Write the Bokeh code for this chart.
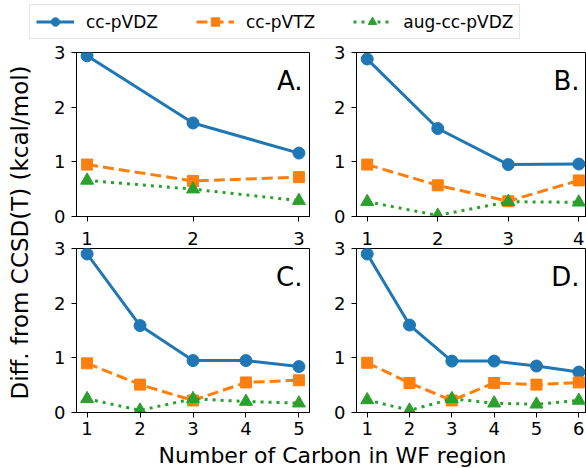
import math
from bokeh.plotting import figure
from bokeh.models import Range1d, FixedTicker, LinearAxis, Legend, LegendItem, Label
from bokeh.layouts import row, column
from bokeh.embed import file_html
from bokeh.resources import INLINE

# ---------------- data ----------------
series_names = ["cc-pVDZ", "cc-pVTZ", "aug-cc-pVDZ"]

A_x = [1, 2, 3]
A_vdz = [2.94, 1.71, 1.16]
A_vtz = [0.95, 0.65, 0.72]
A_aug = [0.66, 0.50, 0.29]

B_x = [1, 2, 3, 4]
B_vdz = [2.88, 1.61, 0.95, 0.96]
B_vtz = [0.95, 0.57, 0.28, 0.66]
B_aug = [0.27, 0.02, 0.27, 0.26]

C_x = [1, 2, 3, 4, 5]
C_vdz = [2.90, 1.59, 0.95, 0.95, 0.84]
C_vtz = [0.90, 0.51, 0.22, 0.55, 0.59]
C_aug = [0.25, 0.04, 0.25, 0.20, 0.17]

D_x = [1, 2, 3, 4, 5, 6]
D_vdz = [2.90, 1.60, 0.94, 0.94, 0.85, 0.74]
D_vtz = [0.91, 0.54, 0.22, 0.54, 0.51, 0.55]
D_aug = [0.23, 0.04, 0.25, 0.17, 0.15, 0.22]

y_ticks = [0, 1, 2, 3]
panel_labels = ["A.", "B.", "C.", "D."]
y_label = "Diff. from CCSD(T) (kcal/mol)"
x_label = "Number of Carbon in WF region"

# ---------------- styles ----------------
FONT = "DejaVu Sans"
styles = [
    dict(color="#1f77b4", dash="solid", marker="circle", size=12),
    dict(color="#ff7f0e", dash="11 5", marker="square", size=11),
    dict(color="#2ca02c", dash="3 5", marker="triangle", size=13),
]
LW = 3


def style_axis(ax):
    ax.axis_line_color = "black"
    ax.axis_line_width = 1
    ax.major_tick_line_color = "black"
    ax.major_tick_line_width = 1
    ax.major_tick_out = 5
    ax.major_tick_in = 0
    ax.minor_tick_out = 0
    ax.minor_tick_in = 0
    ax.major_label_text_font = FONT
    ax.major_label_text_color = "black"
    ax.major_label_text_font_size = "18px"
    ax.major_label_standoff = 6


def panel(x, ys, xr, name, width, height, mbl, mbr, mbt, mbb, show_xlabels, above=None):
    p = figure(width=width, height=height, x_range=Range1d(*xr), y_range=Range1d(0, 3),
               output_backend="svg", toolbar_location=None,
               min_border_left=mbl, min_border_right=mbr,
               min_border_top=mbt, min_border_bottom=mbb)
    p.grid.visible = False
    p.outline_line_color = "black"
    p.outline_line_width = 1
    p.outline_line_alpha = 1
    p.background_fill_color = "white"
    p.border_fill_color = "white"
    p.yaxis.ticker = FixedTicker(ticks=y_ticks)
    for ax in p.yaxis:
        style_axis(ax)
    for ax in p.xaxis:
        style_axis(ax)
    if show_xlabels:
        p.xaxis.ticker = FixedTicker(ticks=list(x))
        for ax in p.xaxis:
            ax.major_label_standoff = 4
    else:
        # tick marks only; the numbers sit in the shared gap, drawn by the panel below
        p.xaxis.ticker = FixedTicker(ticks=[], minor_ticks=list(x))
        for ax in p.xaxis:
            ax.minor_tick_out = 5
            ax.minor_tick_line_color = "black"
            ax.minor_tick_line_width = 1
            ax.major_label_standoff = 0
    for y, st in zip(ys, styles):
        p.line(x, y, line_color=st["color"], line_width=LW, line_dash=st["dash"])
        p.scatter(x, y, marker=st["marker"], size=st["size"],
                  fill_color=st["color"], line_color=st["color"])
    if above is not None:
        # x tick numbers of the panel above, on that panel's own x scale
        rng, ticks = above
        p.extra_x_ranges = {"top": Range1d(*rng)}
        ax = LinearAxis(x_range_name="top", ticker=FixedTicker(ticks=list(ticks)))
        style_axis(ax)
        ax.axis_line_color = None
        ax.major_tick_line_color = None
        ax.major_tick_out = 0
        ax.major_label_standoff = 4
        p.add_layout(ax, "above")
    p.add_layout(Label(x=xr[1], y=3, x_offset=-7, y_offset=-13, text=name,
                       text_align="right", text_baseline="top",
                       text_font=FONT, text_font_size="26px", text_color="black"))
    return p


A_range = (0.9, 3.1)
B_range = (0.848, 4.109)
C_range = (0.8, 5.2)
D_range = (0.747, 6.182)

pA = panel(A_x, [A_vdz, A_vtz, A_aug], A_range, panel_labels[0], 282, 182, 40, 9, 11, 7, False)
pB = panel(B_x, [B_vdz, B_vtz, B_aug], B_range, panel_labels[1], 268, 182, 38, 0, 11, 7, False)
pC = panel(C_x, [C_vdz, C_vtz, C_aug], C_range, panel_labels[2], 282, 219, 40, 9, 25, 30, True,
           above=(A_range, A_x))
pD = panel(D_x, [D_vdz, D_vtz, D_aug], D_range, panel_labels[3], 268, 219, 38, 0, 25, 30, True,
           above=(B_range, B_x))

# ---------------- y label ----------------
YL_W, YL_H = 36, 401
yl = figure(width=YL_W, height=YL_H, x_range=Range1d(0, YL_W), y_range=Range1d(0, YL_H),
            output_backend="svg", toolbar_location=None, min_border=0,
            x_axis_location=None, y_axis_location=None)
yl.outline_line_color = None
yl.grid.visible = False
yl.add_layout(Label(x=19, y=210, text=y_label, angle=math.pi / 2,
                    text_align="center", text_baseline="middle",
                    text_font=FONT, text_font_size="23px", text_color="black"))

# ---------------- legend ----------------
lg = figure(width=586, height=41, x_range=Range1d(-3, -2), y_range=Range1d(-3, -2),
            output_backend="svg", toolbar_location=None, min_border=0,
            x_axis_location=None, y_axis_location=None)
lg.outline_line_color = None
lg.grid.visible = False
items = []
for name, st, ys in zip(series_names, styles, [A_vdz, A_vtz, A_aug]):
    lr = lg.line(A_x, ys, line_color=st["color"], line_width=LW, line_dash=st["dash"])
    sr = lg.scatter(A_x, ys, marker=st["marker"], size=st["size"],
                    fill_color=st["color"], line_color=st["color"])
    items.append(LegendItem(label=name, renderers=[lr, sr]))
leg = Legend(items=items, orientation="horizontal", location=(29, 2), margin=0,
             padding=6, spacing=38, glyph_width=38, glyph_height=21, label_standoff=12,
             label_height=21, label_text_font=FONT, label_text_font_size="17px",
             label_text_color="black",
             border_line_color="#cccccc", border_line_width=1, background_fill_alpha=0.8)
lg.add_layout(leg)

# ---------------- x label ----------------
xl = figure(width=586, height=26, x_range=Range1d(0, 586), y_range=Range1d(0, 26),
            output_backend="svg", toolbar_location=None, min_border=0,
            x_axis_location=None, y_axis_location=None)
xl.outline_line_color = None
xl.grid.visible = False
xl.add_layout(Label(x=332, y=13.5, text=x_label, text_align="center", text_baseline="middle",
                    text_font=FONT, text_font_size="22px", text_color="black"))

layout = column(lg, row(yl, column(pA, pC), column(pB, pD)), xl)

open("out.html", "w").write(file_html(layout, INLINE))
